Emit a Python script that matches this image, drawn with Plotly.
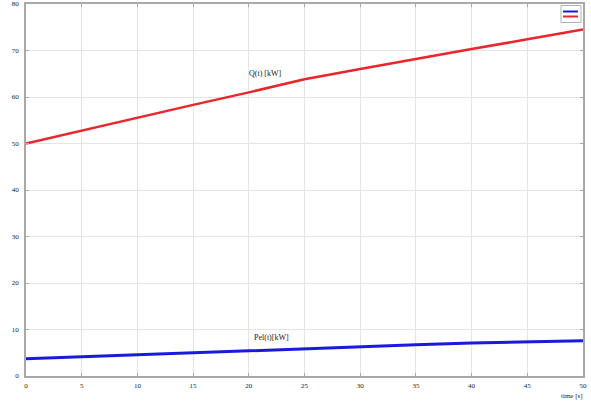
import plotly.graph_objects as go

time_s = [0, 5, 10, 15, 20, 25, 30, 35, 40, 45, 50]
q_kw = [50.0, 52.8, 55.5, 58.3, 61.0, 63.8, 66.0, 68.2, 70.3, 72.4, 74.5]
pel_kw = [3.7, 4.15, 4.6, 5.0, 5.4, 5.8, 6.3, 6.7, 7.1, 7.35, 7.6]
x_ticks = [0, 5, 10, 15, 20, 25, 30, 35, 40, 45, 50]
y_ticks = [0, 10, 20, 30, 40, 50, 60, 70, 80]
series_colors = ["#1a1adc", "#e8262b"]

fig = go.Figure()
fig.add_trace(go.Scatter(x=time_s, y=pel_kw, mode="lines", name="Pel(t)",
                         line=dict(color=series_colors[0], width=3)))
fig.add_trace(go.Scatter(x=time_s, y=q_kw, mode="lines", name="Q(t)",
                         line=dict(color=series_colors[1], width=2.5)))

fig.add_annotation(x=21.5, y=65, text="Q(t) [kW]", showarrow=False,
                   font=dict(family="Liberation Serif", size=8, color="#222"))
fig.add_annotation(x=22, y=8.3, text="Pel(t)[kW]", showarrow=False,
                   font=dict(family="Liberation Serif", size=8, color="#222"))
fig.add_annotation(x=1.004, xref="paper", y=-0.055, yref="paper", text="time [s]",
                   showarrow=False, xanchor="right", yanchor="middle",
                   font=dict(family="Liberation Serif", size=7, color="#222"))

# compact legend box (no labels), as in the reference
W, H = 591, 403
def px(x): return (x - 26) / (583 - 26)
def py(y): return (375.5 - y) / (375.5 - 3.5)
fig.add_shape(type="rect", xref="paper", yref="paper",
              x0=px(561), x1=px(581), y0=py(22), y1=py(5),
              line=dict(color="#b0b0b0", width=1), fillcolor="white", layer="above")
for i, c in enumerate(series_colors):
    yy = py(11 + 5 * i)
    fig.add_shape(type="line", xref="paper", yref="paper",
                  x0=px(563), x1=px(578), y0=yy, y1=yy,
                  line=dict(color=c, width=2), layer="above")

axis_common = dict(showgrid=True, gridcolor="#e4e4e4", gridwidth=1,
                   zeroline=False, showline=True, linecolor="#a8a8a8", linewidth=1.5,
                   mirror="ticks", ticks="inside", ticklen=3, tickcolor="#a8a8a8",
                   automargin=False,
                   tickfont=dict(family="Liberation Serif", size=7, color="#222"))

fig.update_xaxes(range=[0, 50], tickvals=x_ticks, ticklabelstandoff=2, **axis_common)
fig.update_yaxes(range=[0, 80], tickvals=y_ticks, ticklabelstandoff=4, **axis_common)

fig.update_layout(
    width=W, height=H,
    margin=dict(l=26, r=8, t=4, b=27),
    paper_bgcolor="white", plot_bgcolor="white",
    showlegend=False,
)

fig.write_html("out.html", config={"displayModeBar": False},
               post_script="document.body.style.margin='0';")
